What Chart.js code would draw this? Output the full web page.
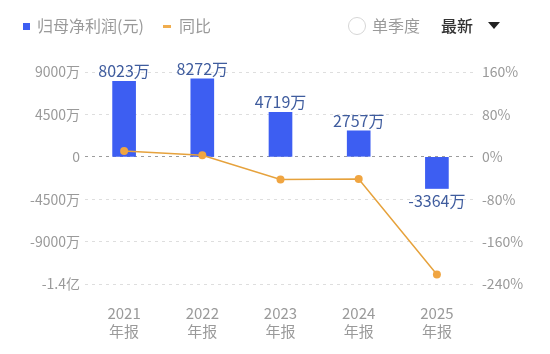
<!DOCTYPE html>
<html><head><meta charset="utf-8">
<script src="https://cdn.jsdelivr.net/npm/chart.js@4/dist/chart.umd.min.js"></script>
<style>
html,body{margin:0;padding:0;background:#fff;width:550px;height:354px;overflow:hidden;font-family:"Noto Sans CJK SC","Noto Sans",sans-serif;}
#wrap{position:relative;width:550px;height:354px;}
canvas{position:absolute;left:0;top:0;}
.lg{position:absolute;top:14px;height:22px;line-height:22px;font-size:16px;color:#9a9a9a;white-space:nowrap;}
</style></head>
<body><div id="wrap">
<canvas id="c" width="550" height="354"></canvas>
<div class="lg" style="left:23px;"><span style="display:inline-block;width:7px;height:7px;background:#3d5ef2;vertical-align:middle;margin-right:7px;position:relative;top:-1px"></span>归母净利润(元)</div>
<div class="lg" style="left:163px;"><span style="display:inline-block;width:8px;height:3px;background:#f0ad4e;vertical-align:middle;margin-right:8px;position:relative;top:-1px"></span>同比</div>
<div class="lg" style="left:348px;font-size:16px;"><span style="display:inline-block;width:18px;height:18px;border:1px solid #d6d6d6;border-radius:50%;vertical-align:middle;margin-right:6px;position:relative;top:-2px;box-sizing:border-box"></span>单季度</div>
<div class="lg" style="left:441px;font-size:16px;color:#333;font-weight:500;">最新</div>
<div style="position:absolute;left:488px;top:22px;width:0;height:0;border-left:6.5px solid transparent;border-right:6.5px solid transparent;border-top:7px solid #222;"></div>
</div>
<script>
const categories = [['2021','年报'],['2022','年报'],['2023','年报'],['2024','年报'],['2025','年报']];
const profitWan = [8023, 8272, 4719, 2757, -3364];
const yoyPct = [11, 3, -43, -42, -222];
const barLabels = ['8023万','8272万','4719万','2757万','-3364万'];

function fmtLeft(v){
  if (v === 0) return '0';
  if (Math.abs(v) >= 10000) return (v/10000).toFixed(1) + '亿';
  return v + '万';
}

const labelPlugin = {
  id:'barLabels',
  afterDatasetsDraw(chart){
    const ctx = chart.ctx;
    const meta = chart.getDatasetMeta(0);
    ctx.save();
    ctx.font = '16px "Noto Sans CJK SC","Noto Sans",sans-serif';
    ctx.fillStyle = '#3f5c9e';
    ctx.textAlign = 'center';
    meta.data.forEach((el,i)=>{
      const v = profitWan[i];
      if (v >= 0){ ctx.textBaseline='bottom'; ctx.fillText(barLabels[i], el.x, el.y - 2); }
      else { ctx.textBaseline='top'; ctx.fillText(barLabels[i], el.x, el.y + 4); }
    });
    ctx.restore();
  }
};

const font = {family:'"Noto Sans CJK SC","Noto Sans",sans-serif', size:14};
new Chart(document.getElementById('c'), {
  type:'bar',
  data:{
    labels: categories,
    datasets:[
      {type:'bar', data: profitWan, yAxisID:'y', backgroundColor:'#3d5ef2', barThickness:23, order:2},
      {type:'line', data: yoyPct, yAxisID:'y1', borderColor:'#e6a23c', borderWidth:1.5, pointRadius:4, pointBackgroundColor:'#f0a541', pointBorderColor:'#f0a541', pointBorderWidth:0, tension:0, order:1}
    ]
  },
  options:{
    responsive:false, animation:false, devicePixelRatio:1,
    layout:{padding:{top:72, bottom:0, left:0, right:0}},
    plugins:{legend:{display:false}, tooltip:{enabled:false}},
    scales:{
      x:{
        grid:{display:false, drawTicks:false}, border:{display:false},
        ticks:{font:{...font, size:15}, color:'#9a9a9a', padding:20, maxRotation:0},
        afterFit(s){ s.height = 70; }
      },
      y:{
        position:'left', min:-13500, max:9000,
        afterBuildTicks(s){ s.ticks = [-13500,-9000,-4500,0,4500,9000].map(v=>({value:v})); },
        grid:{drawTicks:false, color:(c)=> c.tick && c.tick.value===0 ? '#9c9c9c' : '#dedede', lineWidth:1},
        border:{display:false, dash:[3,4]},
        ticks:{font, color:'#9a9a9a', padding:5, callback:(v)=>fmtLeft(v)},
        afterFit(s){ s.width = 85; }
      },
      y1:{
        position:'right', min:-240, max:160,
        afterBuildTicks(s){ s.ticks = [-240,-160,-80,0,80,160].map(v=>({value:v})); },
        grid:{display:false, drawTicks:false}, border:{display:false},
        ticks:{font, color:'#9a9a9a', padding:6, callback:(v)=>v+'%'},
        afterFit(s){ s.width = 74; }
      }
    }
  },
  plugins:[labelPlugin]
});
</script>
</body></html>
